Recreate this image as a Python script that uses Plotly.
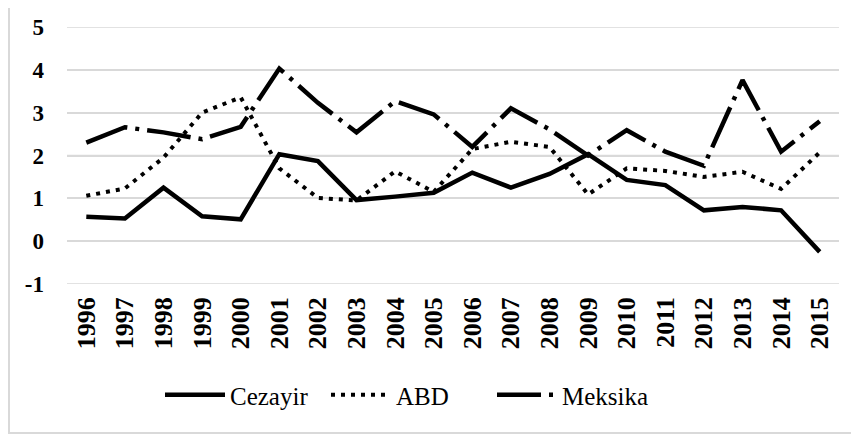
import plotly.graph_objects as go

years = [str(y) for y in range(1996, 2016)]
cezayir = [0.57, 0.53, 1.25, 0.58, 0.51, 2.03, 1.87, 0.96, 1.04, 1.13,
           1.60, 1.25, 1.57, 2.03, 1.43, 1.31, 0.72, 0.80, 0.72, -0.25]
abd = [1.06, 1.23, 1.95, 3.00, 3.36, 1.70, 1.01, 0.95, 1.63, 1.15,
       2.15, 2.32, 2.20, 1.09, 1.70, 1.64, 1.50, 1.62, 1.22, 2.07]
meksika = [2.30, 2.66, 2.54, 2.38, 2.67, 4.03, 3.23, 2.54, 3.27, 2.96,
           2.20, 3.10, 2.61, 2.00, 2.59, 2.09, 1.76, 3.76, 2.09, 2.80]
y_ticks = [-1, 0, 1, 2, 3, 4, 5]
y_labels = ["-1", "0", "1", "2", "3", "4", "5"]

FONT = "Liberation Serif"
GRID = "#d9d9d9"

fig = go.Figure()
fig.add_trace(go.Scatter(x=years, y=cezayir, name="Cezayir", mode="lines",
                         line=dict(color="black", width=4.5, dash="solid")))
fig.add_trace(go.Scatter(x=years, y=abd, name="ABD", mode="lines",
                         line=dict(color="black", width=4, dash="4px,6px")))
fig.add_trace(go.Scatter(x=years, y=meksika, name="Meksika", mode="lines",
                         line=dict(color="black", width=4.5, dash="44px,8px,4px,8px")))

# the page adds an 8px body margin, so the figure is laid out 8px up/left
W, H = 851, 427
L, R, T, B = 59, 20, 19, 151
pw = W - L - R
ph = H - T - B

# horizontal gridlines at each y tick (drawn under the data)
grid_shapes = [dict(type="line", xref="paper", x0=0, x1=1, yref="y", y0=t, y1=t,
                    line=dict(color=GRID, width=1.5), layer="below")
               for t in y_ticks]
border = dict(type="rect", xref="paper", yref="paper",
              x0=(1 - L) / pw, x1=(W + 10 - L) / pw,
              y0=(T + ph - 425) / ph, y1=(T + ph + 10) / ph,
              line=dict(color=GRID, width=2), fillcolor="rgba(0,0,0,0)")

fig.update_layout(
    template="none",
    width=W, height=H,
    margin=dict(l=L, r=R, t=T, b=B, pad=0, autoexpand=False),
    paper_bgcolor="white", plot_bgcolor="rgba(0,0,0,0)",
    font=dict(family=FONT, color="black"),
    showlegend=True,
    legend=dict(orientation="h", x=(152 - L) / pw, xanchor="left",
                y=(ph - (387 - T)) / ph, yanchor="middle",
                font=dict(family=FONT, size=25, color="black"),
                itemwidth=60, entrywidth=91, tracegroupgap=0),
    xaxis=dict(type="category", range=[-0.5, len(years) - 0.5],
               showgrid=False, showline=False, zeroline=False,
               tickangle=-90, ticks="", ticklabelstandoff=7,
               tickfont=dict(family=FONT, size=26, color="black", weight="bold")),
    yaxis=dict(range=[-1, 5], tickmode="array", tickvals=y_ticks, ticktext=y_labels,
               showgrid=True, gridcolor=GRID, gridwidth=1.5,
               zeroline=False, showline=False,
               ticks="", ticklabelstandoff=22,
               tickfont=dict(family=FONT, size=23, color="black", weight="bold")),
    shapes=grid_shapes + [border],
)

fig.write_html("out.html")
